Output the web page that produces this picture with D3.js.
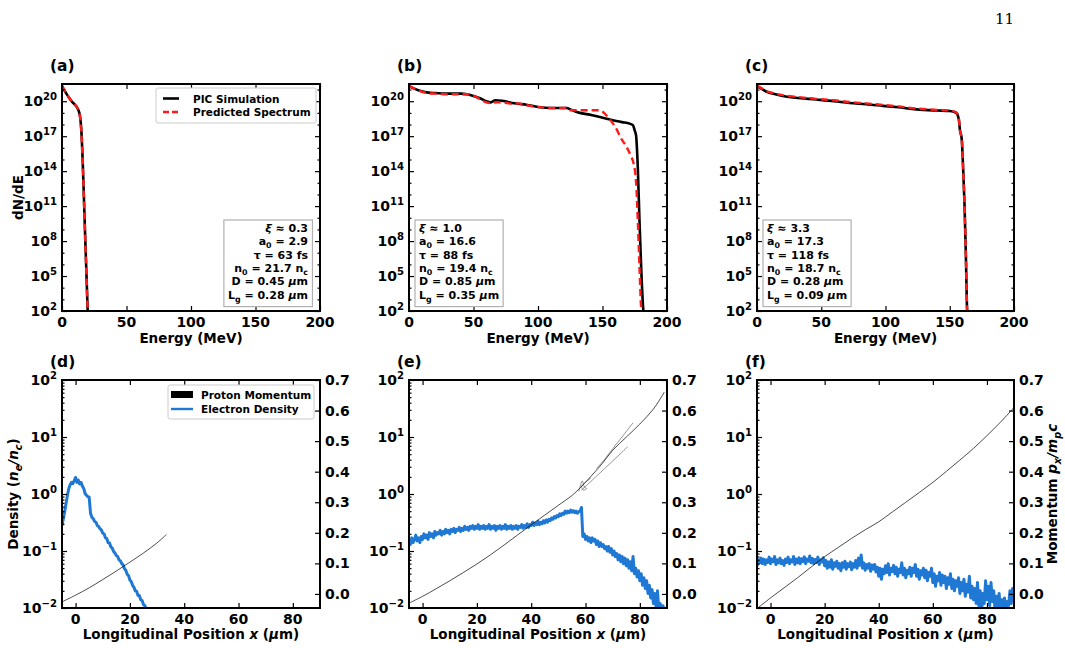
<!DOCTYPE html>
<html>
<head>
<meta charset="utf-8">
<script src="https://cdn.jsdelivr.net/npm/d3@7"></script>
<style>
    body { margin: 0; background: white; }
    text { font-family: "DejaVu Sans", sans-serif; font-weight: bold; fill: black; }
</style>
</head>
<body>
<div id="chart"></div>
<script>
// ---- spectra (top row): energy in MeV, dN/dE ----
const energyPicA = [0, 2, 4, 6, 8, 10, 12, 13, 14, 15, 16, 17, 18, 19, 20]
const picA = [2e21, 8e20, 3.5e20, 1.6e20, 8.5e19, 5e19, 2.5e19, 1.4e19, 5e18, 3e17, 1e15, 5e11, 2e8, 1e5, 5e1]
const energyPredA = [0, 2, 4, 6, 8, 10, 12, 13, 14, 15, 16, 17, 18, 19, 20]
const predA = [2e21, 8.5e20, 3.6e20, 1.7e20, 8.5e19, 5.2e19, 2.6e19, 1.4e19, 4.5e18, 2.5e17, 9e14, 4e11, 1.5e8, 8e4, 4e1]

const energyPicB = [0, 5, 10, 15, 20, 30, 40, 45, 50, 55, 60, 63, 67, 72, 76, 80, 85, 91, 100, 110, 122, 126, 130, 142, 155, 165, 171, 173.6, 175, 176, 177.4, 178.7, 180, 181.6, 182.2]
const picB = [2e21, 1.1e21, 7e20, 5.5e20, 5e20, 4.5e20, 4.5e20, 4e20, 2.8e20, 1.8e20, 1e20, 8e19, 1.2e20, 1.1e20, 9e19, 7e19, 6e19, 5e19, 3.2e19, 2.6e19, 2.6e19, 1.8e19, 1.2e19, 6.3e18, 2.8e18, 1.6e18, 1.2e18, 8.7e17, 3e17, 1.2e17, 1.6e14, 4.5e9, 5e5, 1.3e2, 3e1]
const energyPredB = [0, 5, 10, 15, 20, 30, 40, 45, 50, 55, 60, 63, 67, 72, 76, 80, 85, 91, 100, 110, 122, 125, 135, 148, 152, 155.5, 160, 165, 168, 172, 174, 176, 177.4, 178.7, 180, 180.6]
const predB = [2e21, 1.1e21, 6.5e20, 5e20, 4.5e20, 4e20, 4e20, 4e20, 3e20, 1.5e20, 8e19, 7e19, 8e19, 8e19, 7e19, 6e19, 6.5e19, 4.5e19, 3.2e19, 2.6e19, 2.6e19, 1.7e19, 1.66e19, 1.66e19, 8e18, 2.8e18, 6e17, 5e16, 1.6e16, 2e15, 5e14, 1.3e13, 4.5e9, 5e5, 1.3e2, 3e1]

const energyPicC = [0, 4, 7.75, 12, 20, 30, 46, 60, 72, 85, 98, 110, 124, 140, 150, 155, 157, 158, 159.3, 160.5, 161.5, 162.5, 163.5, 164]
const picC = [2e21, 1.1e21, 6.3e20, 4.5e20, 2.8e20, 2e20, 1.4e20, 1e20, 7e19, 5.5e19, 4e19, 3e19, 2e19, 1.6e19, 1.45e19, 1e19, 3e18, 3e17, 6e16, 1e14, 1.3e11, 1e7, 1.3e2, 3e1]
const energyPredC = [0, 4, 7.75, 12, 20, 30, 46, 60, 72, 85, 98, 110, 124, 140, 150, 155, 157, 158, 159.3, 160.5, 161.5, 162.5, 163.5, 164]
const predC = [2.1e21, 1.2e21, 7e20, 5.2e20, 3.3e20, 2.4e20, 1.6e20, 1.2e20, 8.5e19, 6.5e19, 4.8e19, 3.6e19, 2.4e19, 1.8e19, 1.6e19, 1.1e19, 3.5e18, 3e17, 6e16, 1e14, 1.3e11, 1e7, 1.3e2, 3e1]

// ---- simulation parameters shown in the boxes ----
const xiValues = ['0.3', '1.0', '3.3']
const a0Values = ['2.9', '16.6', '17.3']
const tauValues = ['63', '88', '118']
const n0Values = ['21.7', '19.4', '18.7']
const dValues = ['0.45', '0.85', '0.28']
const lgValues = ['0.28', '0.35', '0.09']

// ---- bottom row: electron density (n_e/n_c) sampled every 0.5 um ----
const densityXD = d3.range(-5, 27.01, 0.5)
const densityD = [0.28, 0.37, 0.5, 0.68, 0.95, 1.25, 1.45, 1.6, 1.52, 1.72,
    1.95, 1.6, 1.75, 1.5, 1.6, 1.38, 1.25, 1.02, 0.95, 0.9,
    0.88, 0.46, 0.39, 0.37, 0.33, 0.32, 0.28, 0.27, 0.245, 0.235,
    0.205, 0.2, 0.17, 0.165, 0.14, 0.138, 0.118, 0.112, 0.098, 0.092,
    0.083, 0.08, 0.07, 0.067, 0.06, 0.057, 0.049, 0.046, 0.039, 0.037,
    0.031, 0.029, 0.025, 0.023, 0.02, 0.0195, 0.0165, 0.0165, 0.014, 0.0135,
    0.0115, 0.011, 0.0095, 0.009, 0.0075]

const densityXE = d3.range(-5, 89.01, 0.5)
const densityE = [0.15, 0.13, 0.17, 0.14, 0.16, 0.19, 0.15, 0.17, 0.14, 0.18,
    0.16, 0.2, 0.17, 0.19, 0.16, 0.21, 0.18, 0.2, 0.17, 0.22,
    0.19, 0.21, 0.2, 0.23, 0.19, 0.22, 0.2, 0.24, 0.21, 0.23,
    0.2, 0.24, 0.22, 0.25, 0.21, 0.24, 0.23, 0.26, 0.22, 0.25,
    0.23, 0.27, 0.24, 0.26, 0.23, 0.27, 0.25, 0.28, 0.24, 0.27,
    0.25, 0.29, 0.24, 0.27, 0.25, 0.28, 0.24, 0.27, 0.25, 0.29,
    0.24, 0.27, 0.25, 0.28, 0.23, 0.27, 0.25, 0.28, 0.24, 0.27,
    0.25, 0.29, 0.24, 0.27, 0.25, 0.28, 0.24, 0.27, 0.25, 0.28,
    0.24, 0.27, 0.26, 0.29, 0.25, 0.28, 0.26, 0.3, 0.26, 0.29,
    0.28, 0.32, 0.28, 0.31, 0.29, 0.33, 0.29, 0.32, 0.3, 0.34,
    0.31, 0.35, 0.32, 0.36, 0.34, 0.38, 0.36, 0.4, 0.38, 0.42,
    0.4, 0.45, 0.42, 0.46, 0.44, 0.5, 0.46, 0.5, 0.47, 0.52,
    0.48, 0.51, 0.47, 0.5, 0.46, 0.49, 0.5, 0.58, 0.18, 0.2,
    0.16, 0.18, 0.15, 0.17, 0.14, 0.17, 0.15, 0.16, 0.13, 0.15,
    0.12, 0.14, 0.12, 0.13, 0.11, 0.12, 0.1, 0.12, 0.095, 0.11,
    0.085, 0.1, 0.08, 0.09, 0.07, 0.085, 0.065, 0.08, 0.06, 0.075,
    0.055, 0.07, 0.05, 0.065, 0.045, 0.08, 0.04, 0.05, 0.035, 0.045,
    0.03, 0.04, 0.025, 0.034, 0.022, 0.03, 0.018, 0.025, 0.015, 0.021,
    0.012, 0.018, 0.01, 0.02, 0.009, 0.012, 0.008, 0.011, 0.009]

const densityXF = d3.range(-5, 90.01, 0.5)
const densityF = [0.055, 0.07, 0.062, 0.075, 0.06, 0.072, 0.058, 0.07, 0.063, 0.078,
    0.06, 0.072, 0.065, 0.08, 0.058, 0.07, 0.062, 0.075, 0.06, 0.068,
    0.056, 0.072, 0.063, 0.078, 0.06, 0.07, 0.064, 0.08, 0.058, 0.072,
    0.062, 0.076, 0.06, 0.073, 0.065, 0.079, 0.06, 0.072, 0.066, 0.082,
    0.062, 0.074, 0.06, 0.071, 0.063, 0.078, 0.058, 0.07, 0.064, 0.076,
    0.055, 0.068, 0.05, 0.064, 0.052, 0.07, 0.048, 0.062, 0.054, 0.066,
    0.05, 0.06, 0.045, 0.062, 0.052, 0.066, 0.048, 0.06, 0.053, 0.064,
    0.047, 0.06, 0.052, 0.068, 0.05, 0.075, 0.056, 0.085, 0.05, 0.062,
    0.046, 0.058, 0.05, 0.06, 0.044, 0.057, 0.048, 0.058, 0.043, 0.052,
    0.036, 0.05, 0.032, 0.048, 0.04, 0.055, 0.042, 0.06, 0.038, 0.05,
    0.044, 0.056, 0.04, 0.052, 0.036, 0.048, 0.042, 0.062, 0.038, 0.05,
    0.034, 0.046, 0.04, 0.052, 0.036, 0.05, 0.042, 0.058, 0.036, 0.048,
    0.032, 0.045, 0.038, 0.05, 0.034, 0.046, 0.03, 0.042, 0.036, 0.05,
    0.028, 0.04, 0.024, 0.036, 0.03, 0.042, 0.025, 0.038, 0.028, 0.036,
    0.022, 0.034, 0.026, 0.04, 0.022, 0.032, 0.02, 0.03, 0.024, 0.034,
    0.018, 0.028, 0.02, 0.032, 0.016, 0.026, 0.019, 0.036, 0.015, 0.024,
    0.014, 0.022, 0.012, 0.028, 0.011, 0.02, 0.008, 0.018, 0.012, 0.03,
    0.014, 0.024, 0.011, 0.028, 0.013, 0.02, 0.009, 0.016, 0.011, 0.018,
    0.008, 0.014, 0.01, 0.015, 0.008, 0.013, 0.011, 0.02, 0.012, 0.022,
    0.015]

// ---- proton momentum p_x/m_p c (right axis) ----
const momentumXD = [-5, 0, 5, 10, 15, 20, 25, 30, 33.5]
const momentumD = [-0.026, -0.004, 0.02, 0.047, 0.075, 0.104, 0.134, 0.167, 0.195]
const momentumXE = [-5, 0, 5, 10, 15, 20, 25, 30, 35, 40, 45, 50, 55, 58, 62, 66, 70, 75, 80, 85, 89]
const momentumE = [-0.03, -0.008, 0.017, 0.043, 0.07, 0.098, 0.128, 0.16, 0.193, 0.226, 0.258, 0.29, 0.322, 0.347, 0.385, 0.425, 0.47, 0.513, 0.556, 0.605, 0.66]
const branchXE1 = [58.5, 61, 64, 67, 70, 73, 75.5]
const branchE1 = [0.34, 0.36, 0.385, 0.41, 0.435, 0.46, 0.482]
const branchXE2 = [64, 67, 70, 74, 77.5]
const branchE2 = [0.41, 0.44, 0.475, 0.52, 0.56]
const branchXE3 = [57.5, 58.3, 58.8, 59.6, 60.4, 59.2, 58.6, 60, 62]
const branchE3 = [0.335, 0.36, 0.37, 0.35, 0.345, 0.34, 0.352, 0.365, 0.38]
const momentumXF = [-5, 0, 5, 10, 15, 20, 25, 30, 35, 40, 45, 50, 55, 60, 65, 70, 75, 80, 85, 90]
const momentumF = [-0.048, -0.013, 0.02, 0.053, 0.088, 0.122, 0.152, 0.182, 0.21, 0.236, 0.268, 0.3, 0.332, 0.365, 0.401, 0.438, 0.476, 0.518, 0.562, 0.61]

const energyTicks = [0, 50, 100, 150, 200]
const spectrumMajor = [2, 5, 8, 11, 14, 17, 20]
const positionTicks = [0, 20, 40, 60, 80]
const densityMajor = [-2, -1, 0, 1, 2]
const momentumTicks = [0, 0.1, 0.2, 0.3, 0.4, 0.5, 0.6, 0.7]

const W = 1065, H = 648
const columns = [[62, 320], [409, 667], [757, 1014]]
const topRow = {y0: 84, y1: 311}
const bottomRow = {y0: 380, y1: 608}
const blue = '#1f78d4'

const svg = d3.select('#chart').append('svg').attr('width', W).attr('height', H)
svg.append('rect').attr('width', W).attr('height', H).attr('fill', 'white')

// text with sub/superscript and italic pieces
function richText(g, x, y, parts, size, anchor='start') {
    let t = g.append('text').attr('x', x).attr('y', y).attr('font-size', size).attr('text-anchor', anchor)
    let shift = 0
    for (let [str, kind] of parts) {
        let sp = t.append('tspan').text(str)
        let target = kind.includes('sub') ? size * 0.28 : kind.includes('sup') ? -size * 0.42 : 0
        if (target !== shift) { sp.attr('dy', target - shift); shift = target }
        if (kind.includes('sub') || kind.includes('sup')) sp.attr('font-size', size * 0.72)
        if (kind.includes('it')) sp.attr('font-style', 'italic')
    }
    return t
}

function drawTicks(g, scale, orient, pos, values, size) {
    let make = {bottom: d3.axisBottom, top: d3.axisTop, left: d3.axisLeft, right: d3.axisRight}[orient]
    let tr = (orient === 'bottom' || orient === 'top') ? `translate(0,${pos})` : `translate(${pos},0)`
    let a = g.append('g').attr('transform', tr).call(make(scale).tickValues(values).tickSize(-size).tickFormat(''))
    a.select('.domain').remove()
    a.selectAll('line').attr('stroke', 'black').attr('stroke-width', 1.2)
}

function addClip(id, x0, x1, row) {
    svg.append('clipPath').attr('id', id).append('rect')
        .attr('x', x0).attr('y', row.y0).attr('width', x1 - x0).attr('height', row.y1 - row.y0)
}

function drawFrame(g, x0, x1, row) {
    g.append('rect').attr('x', x0).attr('y', row.y0).attr('width', x1 - x0).attr('height', row.y1 - row.y0)
        .attr('fill', 'none').attr('stroke', 'black').attr('stroke-width', 2)
}

function drawSpectrumPanel(i, label, ePic, pic, ePred, pred) {
    let [x0, x1] = columns[i]
    let g = svg.append('g')
    let x = d3.scaleLinear().domain([0, 200]).range([x0, x1])
    let y = d3.scaleLog().domain([1e2, 3e21]).range([topRow.y1, topRow.y0])
    addClip('clipTop' + i, x0, x1, topRow)
    let line = d3.line().x(d => x(d[0])).y(d => y(d[1])).curve(d3.curveMonotoneX)
    g.append('path').datum(d3.zip(ePic, pic)).attr('d', line).attr('clip-path', `url(#clipTop${i})`)
        .attr('fill', 'none').attr('stroke', 'black').attr('stroke-width', 2.6)
    g.append('path').datum(d3.zip(ePred, pred)).attr('d', line).attr('clip-path', `url(#clipTop${i})`)
        .attr('fill', 'none').attr('stroke', '#ff1a1a').attr('stroke-width', 2.4).attr('stroke-dasharray', '7,4')

    // ticks, inward on all four sides
    let minor = d3.range(2, 22).filter(k => !spectrumMajor.includes(k)).map(k => 10 ** k)
    drawTicks(g, x, 'bottom', topRow.y1, energyTicks, 5)
    drawTicks(g, x, 'top', topRow.y0, energyTicks, 5)
    drawTicks(g, y, 'left', x0, spectrumMajor.map(k => 10 ** k), 5)
    drawTicks(g, y, 'right', x1, spectrumMajor.map(k => 10 ** k), 5)
    drawTicks(g, y, 'left', x0, minor, 2.5)
    drawTicks(g, y, 'right', x1, minor, 2.5)
    drawFrame(g, x0, x1, topRow)

    for (let v of energyTicks) {
        g.append('text').attr('x', x(v)).attr('y', topRow.y1 + 16).attr('text-anchor', 'middle').attr('font-size', 14).text(v)
    }
    for (let k of spectrumMajor) {
        richText(g, x0 - 5, y(10 ** k) + 5, [['10', ''], [String(k), 'sup']], 14, 'end')
    }
    g.append('text').attr('x', (x0 + x1) / 2).attr('y', topRow.y1 + 32).attr('text-anchor', 'middle')
        .attr('font-size', 13.5).text('Energy (MeV)')
    g.append('text').attr('x', x0 - 12).attr('y', topRow.y0 - 13).attr('font-size', 15.5).text(label)

    // parameter box
    let rows = [
        [['ξ', 'it'], [' ≈ ' + xiValues[i], '']],
        [['a', ''], ['0', 'sub'], [' = ' + a0Values[i], '']],
        [['τ = ' + tauValues[i] + ' fs', '']],
        [['n', ''], ['0', 'sub'], [' = ' + n0Values[i] + ' n', ''], ['c', 'sub']],
        [['D = ' + dValues[i] + ' ', ''], ['μ', 'it'], ['m', '']],
        [['L', ''], ['g', 'sub'], [' = ' + lgValues[i] + ' ', ''], ['μ', 'it'], ['m', '']]
    ]
    let right = i === 0
    let box = g.append('g')
    let tx = right ? x1 - 12 : x0 + 10
    rows.forEach((r, j) => richText(box, tx, 232 + j * 13.3, r, 11, right ? 'end' : 'start'))
    let bb = box.node().getBBox()
    box.insert('rect', ':first-child').attr('x', bb.x - 4).attr('y', bb.y - 2).attr('width', bb.width + 8).attr('height', bb.height + 5)
        .attr('fill', 'white').attr('stroke', '#b0b0b0').attr('stroke-width', 1.2)

    if (i === 0) {
        // legend
        let lg = g.append('g')
        lg.append('rect').attr('x', x1 - 164).attr('y', topRow.y0 + 4).attr('width', 160).attr('height', 35).attr('rx', 2)
            .attr('fill', 'white').attr('stroke', '#cccccc').attr('stroke-width', 1)
        lg.append('line').attr('x1', x1 - 157).attr('x2', x1 - 141).attr('y1', topRow.y0 + 14.5).attr('y2', topRow.y0 + 14.5)
            .attr('stroke', 'black').attr('stroke-width', 2.6)
        lg.append('line').attr('x1', x1 - 157).attr('x2', x1 - 141).attr('y1', topRow.y0 + 28).attr('y2', topRow.y0 + 28)
            .attr('stroke', '#ff1a1a').attr('stroke-width', 2.4).attr('stroke-dasharray', '6,3')
        lg.append('text').attr('x', x1 - 127).attr('y', topRow.y0 + 18.5).attr('font-size', 10.5).text('PIC Simulation')
        lg.append('text').attr('x', x1 - 127).attr('y', topRow.y0 + 32).attr('font-size', 10.5).text('Predicted Spectrum')

        let yl = g.append('g').attr('transform', `translate(23, ${(topRow.y0 + topRow.y1) / 2}) rotate(-90)`)
        yl.append('text').attr('text-anchor', 'middle').attr('font-size', 13.5).text('dN/dE')
    }
}

function drawDensityPanel(i, label, xs, density, mx, mom, branches) {
    let [x0, x1] = columns[i]
    let g = svg.append('g')
    let x = d3.scaleLinear().domain([-5, 90]).range([x0, x1])
    let y = d3.scaleLog().domain([1e-2, 1e2]).range([bottomRow.y1, bottomRow.y0])
    let yR = d3.scaleLinear().domain([-0.046, 0.7]).range([bottomRow.y1, bottomRow.y0])
    addClip('clipBot' + i, x0, x1, bottomRow)
    let dLine = d3.line().x(d => x(d[0])).y(d => y(d[1]))
    g.append('path').datum(d3.zip(xs, density)).attr('d', dLine).attr('clip-path', `url(#clipBot${i})`)
        .attr('fill', 'none').attr('stroke', blue).attr('stroke-width', 3).attr('stroke-linejoin', 'round')
    let mLine = d3.line().x(d => x(d[0])).y(d => yR(d[1])).curve(d3.curveCatmullRom)
    for (let [bx, bp] of branches) {
        g.append('path').datum(d3.zip(bx, bp)).attr('d', mLine).attr('clip-path', `url(#clipBot${i})`)
            .attr('fill', 'none').attr('stroke', '#666').attr('stroke-width', 0.7)
    }
    g.append('path').datum(d3.zip(mx, mom)).attr('d', mLine).attr('clip-path', `url(#clipBot${i})`)
        .attr('fill', 'none').attr('stroke', 'black').attr('stroke-width', 0.7)

    let minor = []
    for (let k = -2; k < 2; k++) for (let m = 2; m < 10; m++) minor.push(m * 10 ** k)
    drawTicks(g, x, 'bottom', bottomRow.y1, positionTicks, 5)
    drawTicks(g, x, 'top', bottomRow.y0, positionTicks, 5)
    drawTicks(g, y, 'left', x0, densityMajor.map(k => 10 ** k), 5)
    drawTicks(g, y, 'left', x0, minor, 2.5)
    drawTicks(g, yR, 'right', x1, momentumTicks, 5)
    drawFrame(g, x0, x1, bottomRow)

    for (let v of positionTicks) {
        g.append('text').attr('x', x(v)).attr('y', bottomRow.y1 + 16).attr('text-anchor', 'middle').attr('font-size', 14).text(v)
    }
    for (let k of densityMajor) {
        richText(g, x0 - 5, y(10 ** k) + 5, [['10', ''], [k < 0 ? '−' + (-k) : String(k), 'sup']], 14, 'end')
    }
    for (let v of momentumTicks) {
        g.append('text').attr('x', x1 + 5).attr('y', yR(v) + 5).attr('font-size', 14).text(d3.format('.1f')(v))
    }
    richText(g, (x0 + x1) / 2, bottomRow.y1 + 31, [['Longitudinal Position ', ''], ['x', 'it'], [' (', ''], ['μ', 'it'], ['m)', '']], 13.5, 'middle')
    g.append('text').attr('x', x0 - 12).attr('y', bottomRow.y0 - 13).attr('font-size', 15.5).text(label)

    if (i === 0) {
        let lg = g.append('g')
        let lx = x1 - 152, ly = bottomRow.y0 + 5
        lg.append('rect').attr('x', lx).attr('y', ly).attr('width', 146).attr('height', 34).attr('rx', 2)
            .attr('fill', 'white').attr('stroke', '#cccccc').attr('stroke-width', 1)
        lg.append('rect').attr('x', lx + 3).attr('y', ly + 6).attr('width', 22).attr('height', 7).attr('fill', 'black')
        lg.append('line').attr('x1', lx + 3).attr('x2', lx + 25).attr('y1', ly + 24).attr('y2', ly + 24)
            .attr('stroke', blue).attr('stroke-width', 2.4)
        lg.append('text').attr('x', lx + 33).attr('y', ly + 13.5).attr('font-size', 10.5).text('Proton Momentum')
        lg.append('text').attr('x', lx + 33).attr('y', ly + 28).attr('font-size', 10.5).text('Electron Density')

        let yl = g.append('g').attr('transform', `translate(18, ${(bottomRow.y0 + bottomRow.y1) / 2}) rotate(-90)`)
        richText(yl, 0, 0, [['Density (', ''], ['n', 'it'], ['e', 'subit'], ['/', 'it'], ['n', 'it'], ['c', 'subit'], [')', '']], 13.5, 'middle')
    }
    if (i === 2) {
        let yl = g.append('g').attr('transform', `translate(1057, ${(bottomRow.y0 + bottomRow.y1) / 2}) rotate(-90)`)
        richText(yl, 0, 0, [['Momentum ', ''], ['p', 'it'], ['x', 'subit'], ['/', 'it'], ['m', 'it'], ['p', 'subit'], ['c', 'it']], 13.5, 'middle')
    }
}

drawSpectrumPanel(0, '(a)', energyPicA, picA, energyPredA, predA)
drawSpectrumPanel(1, '(b)', energyPicB, picB, energyPredB, predB)
drawSpectrumPanel(2, '(c)', energyPicC, picC, energyPredC, predC)

drawDensityPanel(0, '(d)', densityXD, densityD, momentumXD, momentumD, [])
drawDensityPanel(1, '(e)', densityXE, densityE, momentumXE, momentumE,
    [[branchXE1, branchE1], [branchXE2, branchE2], [branchXE3, branchE3]])
drawDensityPanel(2, '(f)', densityXF, densityF, momentumXF, momentumF, [])

// page number
svg.append('text').attr('x', 1014).attr('y', 24).attr('text-anchor', 'end').attr('font-size', 15)
    .style('font-family', '"DejaVu Serif", serif').style('font-weight', 'normal').text('11')
</script>
</body>
</html>
